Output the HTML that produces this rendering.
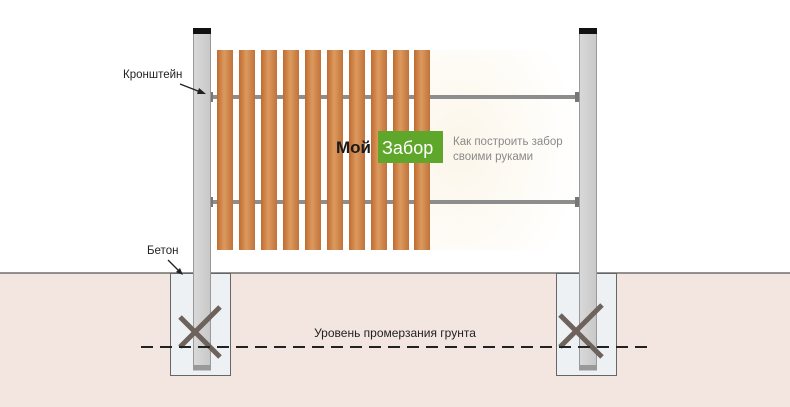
<!DOCTYPE html>
<html><head><meta charset="utf-8"><style>
html,body{margin:0;padding:0;background:#fff;}
svg{display:block}
text{font-family:"Liberation Sans","DejaVu Sans",sans-serif;}
</style></head><body>
<svg width="790" height="407" viewBox="0 0 790 407" xmlns="http://www.w3.org/2000/svg">
<defs>
<linearGradient id="wood" x1="0" x2="1" y1="0" y2="0">
<stop offset="0" stop-color="#bf6a30"/><stop offset="0.45" stop-color="#dc9a5e"/><stop offset="1" stop-color="#c0723a"/>
</linearGradient>
<linearGradient id="post" x1="0" x2="1"><stop offset="0" stop-color="#d9d9d9"/><stop offset="1" stop-color="#c8c8c8"/></linearGradient>
<radialGradient id="glow" cx="0.2" cy="0.5" r="0.8"><stop offset="0" stop-color="#fcf6ea"/><stop offset="1" stop-color="#ffffff"/></radialGradient>
</defs>
<rect width="790" height="407" fill="#fff"/>
<rect x="430" y="50" width="149" height="200" fill="url(#glow)"/>
<rect x="0" y="273" width="790" height="134" fill="#f3e6e1"/>
<line x1="0" y1="273" x2="790" y2="273" stroke="#555" stroke-width="1.2"/>
<rect x="170.5" y="273.5" width="60" height="102" fill="#edf1f3" stroke="#666" stroke-width="1"/>
<rect x="556.5" y="273.5" width="60" height="102" fill="#edf1f3" stroke="#666" stroke-width="1"/>
<rect x="210" y="95" width="370" height="4" fill="#8d8d8d"/>
<rect x="210" y="200" width="370" height="4" fill="#8d8d8d"/>
<rect x="209" y="92" width="4" height="10" fill="#777"/>
<rect x="209" y="197" width="4" height="10" fill="#777"/>
<rect x="575" y="92" width="4" height="10" fill="#777"/>
<rect x="575" y="197" width="4" height="10" fill="#777"/>
<rect x="193.5" y="33" width="17" height="337" fill="url(#post)" stroke="#999" stroke-width="1"/>
<rect x="193" y="28" width="18" height="6" fill="#111"/>
<rect x="193.5" y="365" width="17" height="5" fill="#999"/>
<rect x="579.5" y="33" width="17" height="337" fill="url(#post)" stroke="#999" stroke-width="1"/>
<rect x="579" y="28" width="18" height="6" fill="#111"/>
<rect x="579.5" y="365" width="17" height="5" fill="#999"/>
<g fill="url(#wood)">
<rect x="217" y="50" width="16" height="200"/>
<rect x="239" y="50" width="16" height="200"/>
<rect x="261" y="50" width="16" height="200"/>
<rect x="283" y="50" width="16" height="200"/>
<rect x="305" y="50" width="16" height="200"/>
<rect x="327" y="50" width="16" height="200"/>
<rect x="349" y="50" width="16" height="200"/>
<rect x="371" y="50" width="16" height="200"/>
<rect x="393" y="50" width="16" height="200"/>
<rect x="414" y="50" width="16" height="200"/>
</g>
<g stroke="#6e625c" stroke-width="5" stroke-linecap="butt">
<line x1="180" y1="317" x2="220" y2="357"/><line x1="220" y1="307" x2="180" y2="347"/>
<line x1="560" y1="315" x2="602" y2="357"/><line x1="602" y1="305" x2="560" y2="347"/>
</g>
<line x1="141" y1="347" x2="650" y2="347" stroke="#222" stroke-width="2" stroke-dasharray="12,7"/>
<text x="395" y="337" font-size="12" fill="#222" text-anchor="middle">Уровень промерзания грунта</text>
<text x="123" y="78" font-size="11.5" fill="#222">Кронштейн</text>
<line x1="180" y1="84" x2="203" y2="93" stroke="#222" stroke-width="1.3"/>
<polygon points="206,94 199,88 197,94" fill="#222"/>
<text x="147" y="254" font-size="11.5" fill="#222">Бетон</text>
<line x1="168" y1="260" x2="180" y2="272" stroke="#222" stroke-width="1.3"/>
<polygon points="183,275 176,272 180,268" fill="#222"/>
<text x="336" y="153" font-size="17" font-weight="bold" fill="#1a1a1a">Мой</text>
<rect x="378" y="131" width="65" height="32" fill="#5ea72a"/>
<text x="382" y="154" font-size="18" fill="#fff">Забор</text>
<text x="453" y="145" font-size="11.5" fill="#8a8a8a">Как построить забор</text>
<text x="453" y="160" font-size="11.5" fill="#8a8a8a">своими руками</text>
</svg>
</body></html>
